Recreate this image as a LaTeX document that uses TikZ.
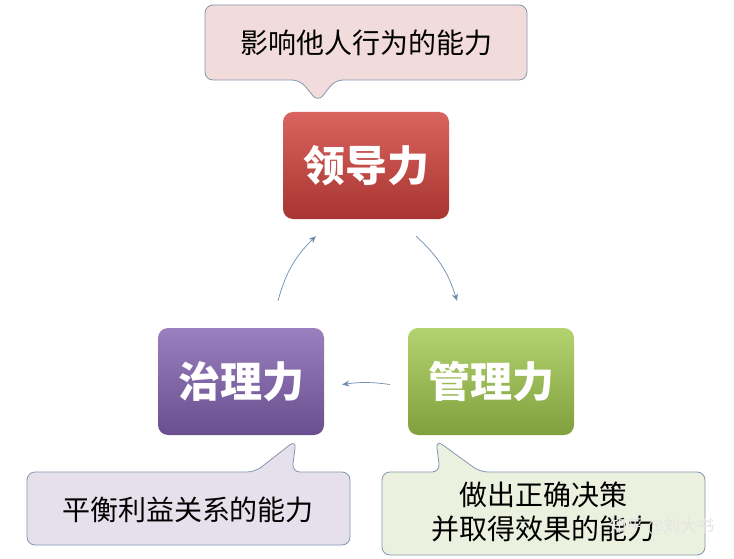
\documentclass[tikz,border=0pt]{standalone}
\usepackage{fontspec}
\setmainfont{Noto Sans CJK SC}
\usetikzlibrary{arrows.meta,calc}
\definecolor{cborder}{HTML}{8497B0}
\definecolor{pinkf}{HTML}{F2DCDB}
\definecolor{lavf}{HTML}{E6E0EC}
\definecolor{grnf}{HTML}{EBF1DE}
\definecolor{redt}{HTML}{D9635F}\definecolor{redb}{HTML}{A83531}
\definecolor{purt}{HTML}{9A80BE}\definecolor{purb}{HTML}{6A4E8E}
\definecolor{grnt}{HTML}{B2D36F}\definecolor{grnb}{HTML}{7FA03C}
\definecolor{arr}{HTML}{6F8CB0}
\tikzset{
  box/.style={rounded corners=10pt,minimum width=166pt,minimum height=107pt,text=white,font=\fontsize{42}{46}\selectfont\bfseries,inner sep=0pt},
  call/.style={draw=cborder,line width=0.8pt,rounded corners=8pt},
  ctext/.style={font=\fontsize{28}{34}\selectfont,align=center,inner sep=0pt},
  conn/.style={draw=arr,line width=0.7pt,-{Stealth[length=7pt,width=6pt]}}
}
\begin{document}
\begin{tikzpicture}[x=1pt,y=-1pt]
\useasboundingbox[fill=white] (0,0) rectangle (734,559);
% callouts
\draw[call,fill=pinkf] (205,5) -- (527,5) -- (527,80) -- (335,80) -- (318,102) -- (300,80) -- (205,80) -- cycle;
\node[ctext] (t1) at (366,43) {影响他人行为的能力};
\draw[call,fill=lavf] (27,472) -- (255,472) -- (296,440) -- (292,472) -- (350,472) -- (350,545) -- (27,545) -- cycle;
\node[ctext] (t2) at (188,510) {平衡利益关系的能力};
\draw[call,fill=grnf] (382,472) -- (440,472) -- (436,440) -- (480,472) -- (705,472) -- (705,555) -- (382,555) -- cycle;
\node[ctext] (t3) at (543,512) {做出正确决策\\ 并取得效果的能力};
% boxes
\node[box,top color=redt,bottom color=redb] (lead) at (366,165.5) {领导力};
\node[box,top color=purt,bottom color=purb] (gov) at (241,381.5) {治理力};
\node[box,top color=grnt,bottom color=grnb] (mgmt) at (491,381.5) {管理力};
% arrows
\draw[conn] ($(gov.north)+(37,-27)$) to[bend left=15] ($(lead.south west)+(33,17)$);
\draw[conn] ($(lead.south east)+(-33,17)$) to[bend left=15] ($(mgmt.north)+(-34,-27)$);
\draw[conn] ($(mgmt.west)+(-18,3)$) to[bend right=8] ($(gov.east)+(18,3)$);
\node[text=white!80!gray,font=\fontsize{17}{20}\selectfont,anchor=east] (wm) at (718,527) {知乎 @刘大书};
\end{tikzpicture}
\end{document}
